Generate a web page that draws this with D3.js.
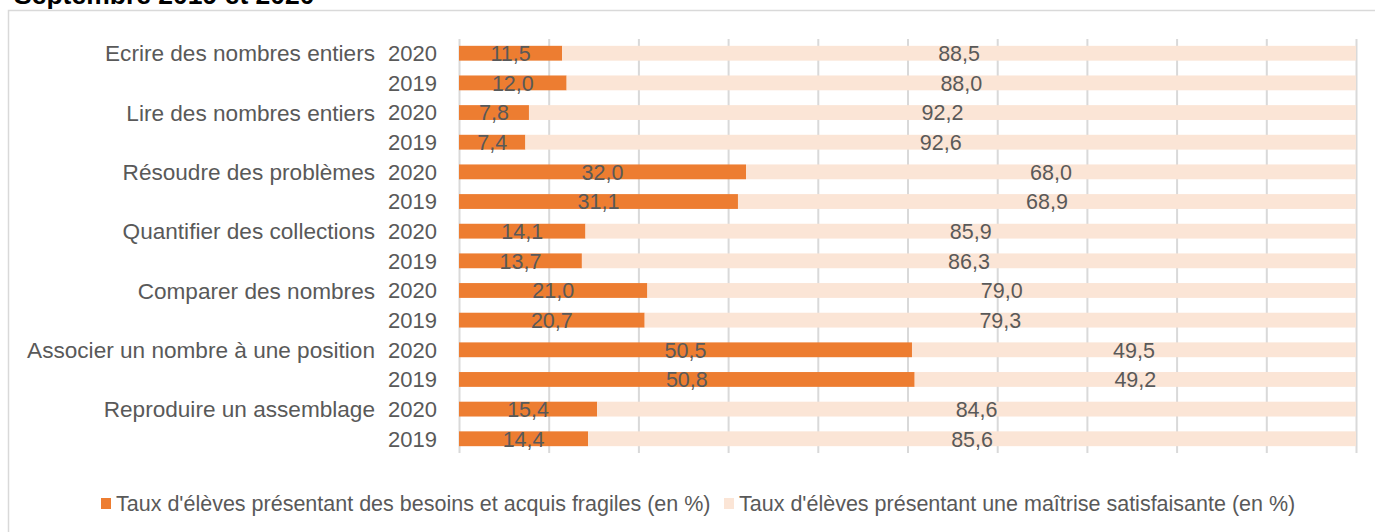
<!DOCTYPE html>
<html>
<head>
<meta charset="utf-8">
<script src="https://cdn.jsdelivr.net/npm/d3@7"></script>
<style>
  body { margin: 0; background: #fff; }
  svg text { font-family: "Liberation Sans", Arial, sans-serif; fill: #595959; }
</style>
</head>
<body>
<script>
// data, top to bottom
var categories = ["Ecrire des nombres entiers", "Lire des nombres entiers", "Résoudre des problèmes",
                  "Quantifier des collections", "Comparer des nombres", "Associer un nombre à une position",
                  "Reproduire un assemblage"];
var years = ["2020", "2019"];
var fragile = [11.5, 12.0, 7.8, 7.4, 32.0, 31.1, 14.1, 13.7, 21.0, 20.7, 50.5, 50.8, 15.4, 14.4];
var satisf = [88.5, 88.0, 92.2, 92.6, 68.0, 68.9, 85.9, 86.3, 79.0, 79.3, 49.5, 49.2, 84.6, 85.6];
var seriesNames = ["Taux d'élèves présentant des besoins et acquis fragiles (en %)",
                   "Taux d'élèves présentant une maîtrise satisfaisante (en %)"];
var colors = ["#ED7D31", "#FBE5D6"];

var W = 1375, H = 532,
    plotL = 459, plotR = 1356, plotT = 39, plotB = 453,
    fs = "21.5px";

var rows = [];
categories.forEach(function(c, ci) {
  years.forEach(function(yr, yi) {
    var k = ci * 2 + yi;
    rows.push({ key: k, cat: c, year: yr, first: yi === 0, a: fragile[k], b: satisf[k] });
  });
});

var svg = d3.select("body").append("svg")
    .attr("width", W)
    .attr("height", H);

// title (cut at the top in the original)
svg.append("text")
    .attr("x", 14).attr("y", 3.5)
    .style("font-size", "26.5px").style("font-weight", "bold").style("fill", "#000")
    .text("Septembre 2019 et 2020");

// chart frame
svg.append("rect")
    .attr("x", 8.5).attr("y", 10.5)
    .attr("width", 1400).attr("height", 600)
    .attr("fill", "none").attr("stroke", "#D9D9D9").attr("stroke-width", 1.5);

var x = d3.scaleLinear().domain([0, 100]).range([plotL, plotR]);
var y = d3.scaleBand().domain(rows.map(function(d) { return d.key; }))
    .range([plotT, plotB]).paddingInner(0.5).paddingOuter(0.23);

// gridlines
svg.append("g")
    .attr("transform", "translate(0," + plotB + ")")
    .call(d3.axisBottom(x).ticks(10).tickSize(-(plotB - plotT)).tickFormat(""))
    .call(function(g) {
      g.select(".domain").remove();
      g.selectAll("line").attr("stroke", "#D9D9D9").attr("stroke-width", 2);
    });

var fmt = function(v) { return v.toFixed(1).replace(".", ","); };

// fragile bars
svg.selectAll(".barA")
    .data(rows)
    .enter().append("rect")
    .attr("class", "barA")
    .attr("x", x(0))
    .attr("y", function(d) { return y(d.key); })
    .attr("width", function(d) { return x(d.a) - x(0); })
    .attr("height", y.bandwidth())
    .attr("fill", colors[0]);

// satisfying bars
svg.selectAll(".barB")
    .data(rows)
    .enter().append("rect")
    .attr("class", "barB")
    .attr("x", function(d) { return x(d.a); })
    .attr("y", function(d) { return y(d.key); })
    .attr("width", function(d) { return x(d.a + d.b) - x(d.a); })
    .attr("height", y.bandwidth())
    .attr("fill", colors[1]);

// value labels
var mid = function(d) { return y(d.key) + y.bandwidth() / 2; };
svg.selectAll(".labA")
    .data(rows)
    .enter().append("text")
    .attr("x", function(d) { return (x(0) + x(d.a)) / 2; })
    .attr("y", mid)
    .attr("dy", "0.36em")
    .attr("text-anchor", "middle")
    .style("font-size", fs)
    .text(function(d) { return fmt(d.a); });

svg.selectAll(".labB")
    .data(rows)
    .enter().append("text")
    .attr("x", function(d) { return (x(d.a) + x(d.a + d.b)) / 2; })
    .attr("y", mid)
    .attr("dy", "0.36em")
    .attr("text-anchor", "middle")
    .style("font-size", fs)
    .text(function(d) { return fmt(d.b); });

// axis labels: years and categories
svg.selectAll(".yr")
    .data(rows)
    .enter().append("text")
    .attr("x", 437).attr("y", mid)
    .attr("dy", "0.36em")
    .attr("text-anchor", "end")
    .style("font-size", "22px")
    .text(function(d) { return d.year; });

svg.selectAll(".cat")
    .data(rows.filter(function(d) { return d.first; }))
    .enter().append("text")
    .attr("x", 375).attr("y", mid)
    .attr("dy", "0.36em")
    .attr("text-anchor", "end")
    .style("font-size", "22.6px")
    .text(function(d) { return d.cat; });

// legend
var legX = [101, 724];
var leg = svg.selectAll(".leg")
    .data(seriesNames)
    .enter().append("g")
    .attr("transform", function(d, i) { return "translate(" + legX[i] + ",498)"; });
leg.append("rect")
    .attr("width", 10).attr("height", 11)
    .attr("fill", function(d, i) { return colors[i]; });
leg.append("text")
    .attr("x", 15).attr("y", 5.5)
    .attr("dy", "0.36em")
    .style("font-size", fs)
    .text(function(d) { return d; });
</script>
</body>
</html>
